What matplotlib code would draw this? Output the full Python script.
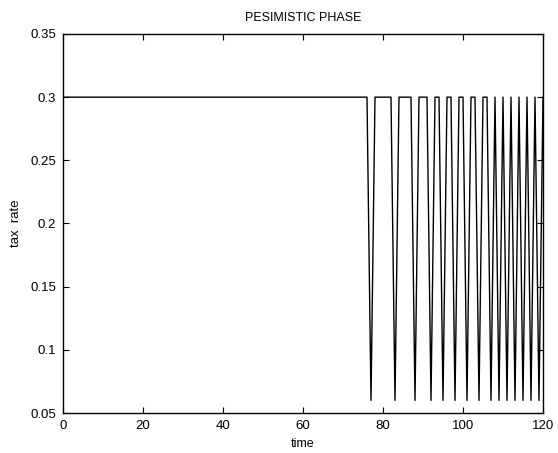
import numpy as np
import matplotlib
matplotlib.use("Agg")
import matplotlib.pyplot as plt

plt.rcParams['font.family'] = ['Liberation Sans', 'DejaVu Sans']

# tax rate per time step: 0.3 everywhere except the dips
t_start, t_end = 0, 120
high_rate = 0.3
low_rate = 0.06
dip_times = [77, 83, 88, 92, 95, 98, 101, 104, 107, 109, 111, 113, 115, 117, 119]

time = np.arange(t_start, t_end + 1)
tax = np.full(time.shape, high_rate)
tax[np.isin(time, dip_times)] = low_rate

x_ticks = [0, 20, 40, 60, 80, 100, 120]
y_ticks = [0.05, 0.1, 0.15, 0.2, 0.25, 0.3, 0.35]
y_labels = ['0.05', '0.1', '0.15', '0.2', '0.25', '0.3', '0.35']

fig = plt.figure(figsize=(5.58, 4.53), dpi=100)
ax = fig.add_axes([0.1129, 0.0883, 0.8602, 0.8367])
ax.plot(time, tax, color='black', linewidth=1.0)

ax.set_xlim(0, 120)
ax.set_ylim(0.05, 0.35)
ax.set_xticks(x_ticks)
ax.set_yticks(y_ticks)
ax.set_yticklabels(y_labels)
ax.tick_params(direction='in', top=True, right=True, length=4, labelsize=9.5, pad=5)
for s in ax.spines.values():
    s.set_linewidth(1.0)

ax.set_title('PESIMISTIC PHASE', fontsize=9, pad=9)
ax.set_xlabel('time', fontsize=9, labelpad=4)
ax.set_ylabel('tax  rate', fontsize=9.5, labelpad=6)

fig.savefig('out.png', dpi=100)
